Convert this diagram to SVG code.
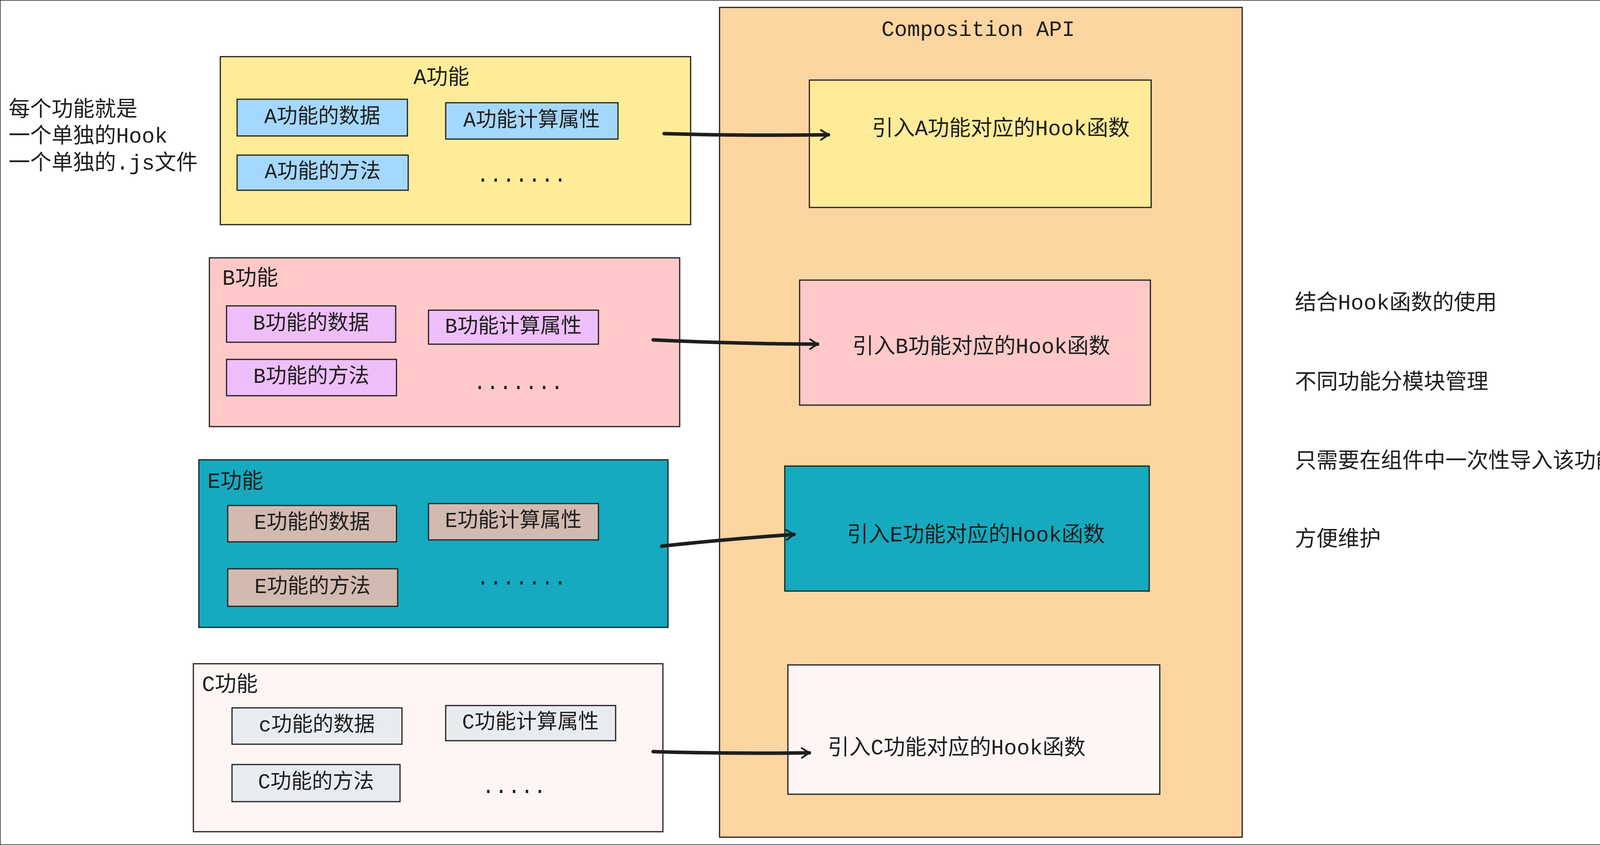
<svg xmlns="http://www.w3.org/2000/svg" width="4291" height="2163" viewBox="0 0 4291 2163">
<style>
text{font-family:"Liberation Mono","Noto Sans CJK SC",monospace;font-size:55px;fill:#1e1e1e}
.c{text-anchor:middle;dominant-baseline:central}
.l{dominant-baseline:central}
.s{font-size:53px}
rect{stroke:#1e1e1e;stroke-width:3}
.conn path{fill:none;stroke:#1e1e1e;stroke-width:9;stroke-linecap:round;stroke-linejoin:round}
</style>
<defs><marker id="ah" viewBox="0 0 10 10" refX="9" refY="5" markerWidth="5" markerHeight="5" orient="auto" markerUnits="userSpaceOnUse" style="overflow:visible"><path d="M-30,-20 L9,5 L-30,30" fill="none" stroke="#1e1e1e" stroke-width="9" stroke-linecap="round"/></marker></defs>
<rect width="4291" height="2163" fill="#fff" stroke="none"/>
<g id="api"><rect x="1842" y="19" width="1338" height="2124" fill="#fdd5a0"/><text class="c" x="2504" y="77">Composition API</text></g>
<g id="note"><text x="22" y="282" class="l">每个功能就是</text><text x="22" y="350" class="l">一个单独的Hook</text><text x="22" y="419" class="l">一个单独的.js文件</text></g>
<g id="A"><rect x="564" y="145" width="1204" height="430" fill="#ffec99"/><text class="c" x="1130" y="200">A功能</text>
<rect x="607" y="254" width="436" height="94" fill="#a5d8ff"/><text class="c s" x="825" y="301">A功能的数据</text>
<rect x="1141" y="263" width="441" height="93" fill="#a5d8ff"/><text class="c s" x="1361" y="310">A功能计算属性</text>
<rect x="607" y="397" width="438" height="90" fill="#a5d8ff"/><text class="c s" x="826" y="442">A功能的方法</text>
<text class="c" x="1335" y="450">.......</text></g>
<g id="tA"><rect x="2072" y="205" width="875" height="326" fill="#ffec99"/><text class="c" x="2562" y="331">引入A功能对应的Hook函数</text></g>
<g id="B"><rect x="536" y="660" width="1204" height="432" fill="#ffc9c9"/><text class="l" x="569" y="714">B功能</text>
<rect x="580" y="783" width="433" height="93" fill="#eebefa"/><text class="c s" x="796" y="830">B功能的数据</text>
<rect x="1097" y="794" width="435" height="87" fill="#eebefa"/><text class="c s" x="1314" y="838">B功能计算属性</text>
<rect x="580" y="920" width="435" height="93" fill="#eebefa"/><text class="c s" x="797" y="966">B功能的方法</text>
<text class="c" x="1327" y="981">.......</text></g>
<g id="tB"><rect x="2047" y="717" width="898" height="320" fill="#ffc9c9"/><text class="c" x="2512" y="889">引入B功能对应的Hook函数</text></g>
<g id="E"><rect x="509" y="1177" width="1201" height="429" fill="#15aabf"/><text class="l" x="531" y="1234">E功能</text>
<rect x="583" y="1294" width="432" height="93" fill="#d2bab0"/><text class="c s" x="799" y="1340">E功能的数据</text>
<rect x="1097" y="1289" width="435" height="93" fill="#d2bab0"/><text class="c s" x="1314" y="1335">E功能计算属性</text>
<rect x="583" y="1456" width="435" height="96" fill="#d2bab0"/><text class="c s" x="800" y="1504">E功能的方法</text>
<text class="c" x="1335" y="1481">.......</text></g>
<g id="tE"><rect x="2009" y="1193" width="933" height="320" fill="#15aabf"/><text class="c" x="2498" y="1371">引入E功能对应的Hook函数</text></g>
<g id="C"><rect x="495" y="1699" width="1202" height="430" fill="#fff5f5"/><text class="l" x="517" y="1754">C功能</text>
<rect x="594" y="1812" width="435" height="93" fill="#e9ecef"/><text class="c s" x="811" y="1858">c功能的数据</text>
<rect x="1141" y="1806" width="435" height="90" fill="#e9ecef"/><text class="c s" x="1358" y="1851">C功能计算属性</text>
<rect x="594" y="1957" width="430" height="95" fill="#e9ecef"/><text class="c s" x="809" y="2004">C功能的方法</text>
<text class="c" x="1316" y="2015">.....</text></g>
<g id="tC"><rect x="2017" y="1702" width="952" height="331" fill="#fff5f5"/><text class="c" x="2449" y="1916">引入C功能对应的Hook函数</text></g>
<g id="right"><text class="l" x="3315" y="777">结合Hook函数的使用</text><text class="l" x="3315" y="980">不同功能分模块管理</text><text class="l" x="3315" y="1182">只需要在组件中一次性导入该功能即可</text><text class="l" x="3315" y="1382">方便维护</text></g>
<g class="conn" id="connectors">
<path d="M1700,342 Q1900,348 2121,345" marker-end="url(#ah)"/>
<path d="M1672,870 Q1880,880 2093,881" marker-end="url(#ah)"/>
<path d="M1694,1398 Q1860,1380 2033,1368" marker-end="url(#ah)"/>
<path d="M1672,1924 Q1870,1930 2072,1927" marker-end="url(#ah)"/>
</g>
</svg>
